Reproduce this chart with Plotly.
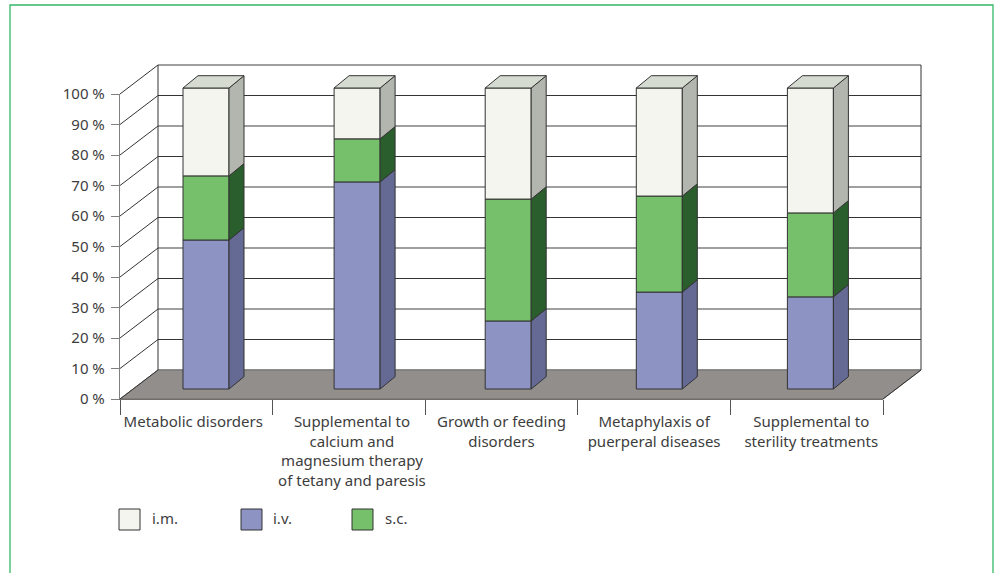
import plotly.graph_objects as go

categories = ["Metabolic disorders",
              "Supplemental to<br>calcium and<br>magnesium therapy<br>of tetany and paresis",
              "Growth or feeding<br>disorders",
              "Metaphylaxis of<br>puerperal diseases",
              "Supplemental to<br>sterility treatments"]
iv = [49.5, 68.8, 22.6, 32.2, 30.6]
sc = [21.3, 14.3, 40.5, 31.9, 27.9]
im = [29.2, 16.9, 36.9, 35.9, 41.5]
y_ticks = list(range(0, 101, 10))
y_labels = [f"{v} %" for v in y_ticks]

W, H = 1002, 573
FONT = "Noto Sans"
FS = 15
TEXT = "#3d3d3d"
DARK = "#333333"
GRAY = "#7f7f7f"
FLOOR = "#928e8b"

def px(x): return x / W
def py(y): return 1 - y / H

# front-plane scale (pixels): category unit and percent unit
FX0, FXU = 120, 152.6
FY0, FYU = 399, 3.05
# depth of the box, in front-plane units
DX, DY = 38 / FXU, 29 / FYU
# bar-plane scale
BX0, BXU = 206, 151.1
BY0, BYU = 389, 3.01
BAR_W = 46 / BXU
BDX, BDY = 15 / BXU, 12.3 / BYU
# label anchors within each category slot
LABEL_SHIFT = [-0.02, 0.02, 0.0, 0.0, 0.03]

fig = go.Figure()

# ---- background box (xaxis / yaxis)
n = len(categories)
fig.add_trace(go.Scatter(x=[0, n, n + DX, DX, 0], y=[0, 0, DY, DY, 0], fill="toself", fillcolor=FLOOR,
                         mode="lines", line=dict(color="#6f6c6a", width=1), hoverinfo="skip", showlegend=False))
for v in y_ticks:
    grid = GRAY if v % 20 == 0 else DARK
    w = 1.4 if v % 20 == 0 else 1
    fig.add_trace(go.Scatter(x=[DX, n + DX], y=[v + DY, v + DY], mode="lines",
                             line=dict(color=grid, width=w), hoverinfo="skip", showlegend=False))
    if v > 0:
        fig.add_trace(go.Scatter(x=[0, DX], y=[v, v + DY], mode="lines",
                                 line=dict(color=DARK, width=1), hoverinfo="skip", showlegend=False))
fig.add_trace(go.Scatter(x=[0, DX], y=[0, DY], mode="lines", line=dict(color=DARK, width=1),
                         hoverinfo="skip", showlegend=False))
fig.add_trace(go.Scatter(x=[n, n + DX], y=[0, DY], mode="lines", line=dict(color=DARK, width=1),
                         hoverinfo="skip", showlegend=False))
for x in (DX, n + DX):
    fig.add_trace(go.Scatter(x=[x, x], y=[DY, 100 + DY], mode="lines", line=dict(color=DARK, width=1),
                             hoverinfo="skip", showlegend=False))

# ---- labelled axes on the front plane (xaxis2 / yaxis2)
fig.add_trace(go.Scatter(x=[0.5], y=[0], xaxis="x2", yaxis="y2", mode="markers",
                         marker=dict(opacity=0), hoverinfo="skip", showlegend=False))

# ---- bars (xaxis3 / yaxis3)
idx = list(range(n))
series = [("i.v.", iv, "#8d94c4", "#646a94"),
          ("s.c.", sc, "#76c06c", "#2a5e2c"),
          ("i.m.", im, "#f4f5ee", "#b3b6ae")]
bottoms = [0.0] * n
for name, vals, front, side in series:
    fig.add_trace(go.Bar(x=idx, y=vals, base=bottoms, width=BAR_W, name=name, xaxis="x3", yaxis="y3",
                         marker=dict(color=front, line=dict(color=DARK, width=1)), showlegend=False))
    xs, ys = [], []
    for i in idx:
        r = i + BAR_W / 2
        b = bottoms[i]
        t = b + vals[i]
        xs += [r, r + BDX, r + BDX, r, r, None]
        ys += [b, b + BDY, t + BDY, t, b, None]
    fig.add_trace(go.Scatter(x=xs, y=ys, xaxis="x3", yaxis="y3", mode="lines", fill="toself", fillcolor=side,
                             line=dict(color=DARK, width=1), hoverinfo="skip", showlegend=False))
    bottoms = [b + v for b, v in zip(bottoms, vals)]
xs, ys = [], []
for i in idx:
    l, r = i - BAR_W / 2, i + BAR_W / 2
    t = bottoms[i]
    xs += [l, r, r + BDX, l + BDX, l, None]
    ys += [t, t, t + BDY, t + BDY, t, None]
fig.add_trace(go.Scatter(x=xs, y=ys, xaxis="x3", yaxis="y3", mode="lines", fill="toself", fillcolor="#d6dbd2",
                         line=dict(color=DARK, width=1), hoverinfo="skip", showlegend=False))

hidden = dict(visible=False, fixedrange=True, automargin=False)
shapes = [dict(type="path", xref="paper", yref="paper",
               path=f"M{px(10)},{py(576)} L{px(10)},{py(5)} L{px(993)},{py(5)} L{px(993)},{py(576)}",
               line=dict(color="#35b865", width=1.3))]
annotations = []
for name, color, sx, tx in [("i.m.", "#f4f5ee", 119, 150), ("i.v.", "#8d94c4", 241, 271), ("s.c.", "#76c06c", 352, 383)]:
    shapes.append(dict(type="rect", xref="paper", yref="paper", x0=px(sx), x1=px(sx + 21), y0=py(530), y1=py(509),
                       fillcolor=color, line=dict(color=DARK, width=1)))
    annotations.append(dict(text=name, xref="paper", yref="paper", x=px(tx), y=py(518), xanchor="left",
                            yanchor="middle", showarrow=False, font=dict(family=FONT, size=FS, color=TEXT)))

fig.update_layout(
    template="none",
    width=W, height=H, margin=dict(l=0, r=0, t=0, b=0, pad=0), paper_bgcolor="white", plot_bgcolor="rgba(0,0,0,0)",
    barmode="overlay", hovermode=False, showlegend=False, font=dict(family=FONT, size=FS, color=TEXT),
    xaxis=dict(domain=[0, 1], range=[(0 - FX0) / FXU, (W - FX0) / FXU], anchor="y", **hidden),
    yaxis=dict(domain=[0, 1], range=[(FY0 - H) / FYU, FY0 / FYU], anchor="x", **hidden),
    xaxis2=dict(domain=[px(FX0), px(FX0 + n * FXU)], range=[0, n], anchor="y2", tickmode="array", automargin=False,
                tickvals=[i + 0.5 + s for i, s in zip(idx, LABEL_SHIFT)], ticktext=categories, ticks="outside", ticklen=1,
                tickcolor="rgba(0,0,0,0)", ticklabelstandoff=8, tickangle=0,
                minor=dict(tickmode="array", tickvals=list(range(n + 1)), ticks="outside", ticklen=15,
                           tickcolor="#555555", tickwidth=1),
                showline=True, linecolor="#6f6c6a", linewidth=1, showgrid=False, zeroline=False, fixedrange=True,
                tickfont=dict(family=FONT, size=FS, color=TEXT)),
    yaxis2=dict(domain=[py(FY0), py(FY0 - 100 * FYU)], range=[0, 100], anchor="x2", tickmode="array", automargin=False,
                tickvals=y_ticks, ticktext=y_labels, ticks="outside", ticklen=8, tickcolor=GRAY, tickwidth=1,
                ticklabelstandoff=3, showline=True, linecolor=GRAY, linewidth=1.3, showgrid=False, zeroline=False,
                fixedrange=True, tickfont=dict(family=FONT, size=FS, color=TEXT)),
    xaxis3=dict(domain=[0, 1], range=[(0 - BX0) / BXU, (W - BX0) / BXU], anchor="y3", **hidden),
    yaxis3=dict(domain=[0, 1], range=[(BY0 - H) / BYU, BY0 / BYU], anchor="x3", **hidden),
    shapes=shapes, annotations=annotations,
)
fig.write_html("out.html", config={"displayModeBar": False},
               post_script="document.body.style.margin='0';document.documentElement.style.overflow='hidden';")
